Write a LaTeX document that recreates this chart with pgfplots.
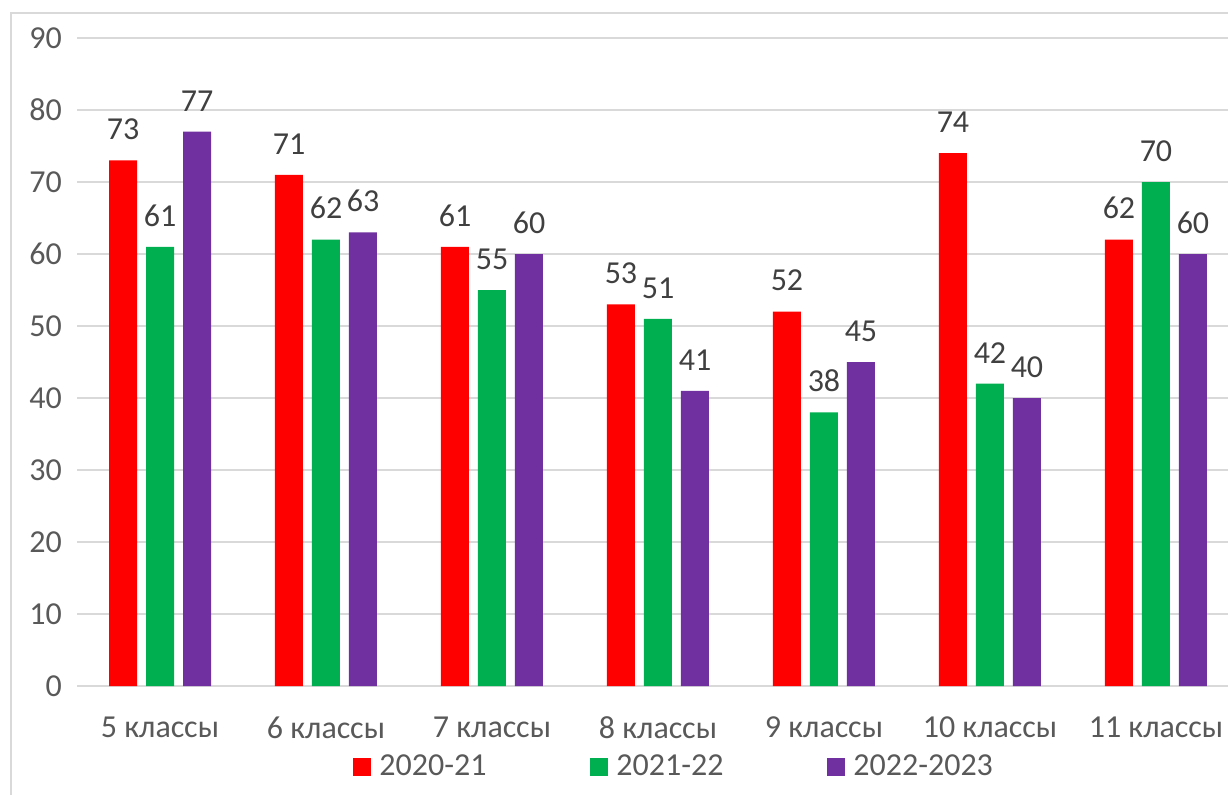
\documentclass[border=0pt]{standalone}
\usepackage{pgfplots}
\pgfplotsset{compat=1.18}
\usepackage{fontspec}
\setmainfont{Carlito}
\definecolor{cRed}{HTML}{FF0000}
\definecolor{cGreen}{HTML}{00B050}
\definecolor{cPurple}{HTML}{7030A0}
\definecolor{gridc}{HTML}{D9D9D9}
\definecolor{txt}{HTML}{595959}
\definecolor{lbl}{HTML}{404040}
\newcommand{\legbox}[1]{\makebox[105.5pt][l]{#1}}
% 1 px of the reference = 0.5pt
\begin{document}
\begin{tikzpicture}[x=0.5pt,y=0.5pt]
\path[use as bounding box] (0,0) rectangle (1228,794);
\clip (0,0) rectangle (1228,794);
\draw[gridc, line width=1pt] (11,-10) -- (11,781) -- (1240,781);
\begin{axis}[
  at={(38.5pt,54pt)}, anchor=south west,
  scale only axis, width=581pt, height=324pt,
  ybar=4.5pt, bar width=14pt,
  xmin=-0.5, xmax=6.5, ymin=0, ymax=90,
  ytick={0,10,...,90},
  xtick={0,...,6},
  xticklabels={5 классы,6 классы,7 классы,8 классы,9 классы,10 классы,11 классы},
  axis line style={draw=none},
  ymajorgrids, grid style={gridc, line width=1pt},
  major tick length=0pt,
  tick label style={font=\fontsize{16}{19}\selectfont, text=txt},
  yticklabel style={xshift=-4pt},
  xticklabel style={yshift=-12pt},
  /pgf/number format/assume math mode=true,
  nodes near coords,
  every node near coord/.append style={font=\fontsize{16}{19}\selectfont, text=lbl, inner sep=0pt, yshift=10pt},
  legend style={at={(0.2375,-0.1250)}, anchor=west, draw=none, fill=none,
    font=\fontsize{16}{19}\selectfont, text=txt, inner sep=0pt,
    nodes={inner sep=0pt},
    legend columns=3,
    /tikz/every odd column/.append style={column sep=4pt},
    /tikz/every even column/.append style={column sep=0pt}},
  legend cell align=left,
  legend image code/.code={\fill[#1] (0pt,-4.5pt) rectangle (9pt,4.5pt);},
]
\addplot[fill=cRed, draw=none] coordinates {(0,73) (1,71) (2,61) (3,53) (4,52) (5,74) (6,62)};
\addplot[fill=cGreen, draw=none] coordinates {(0,61) (1,62) (2,55) (3,51) (4,38) (5,42) (6,70)};
\addplot[fill=cPurple, draw=none] coordinates {(0,77) (1,63) (2,60) (3,41) (4,45) (5,40) (6,60)};
\legend{\legbox{2020-21},\legbox{2021-22},2022-2023}
\end{axis}
\end{tikzpicture}
\end{document}
